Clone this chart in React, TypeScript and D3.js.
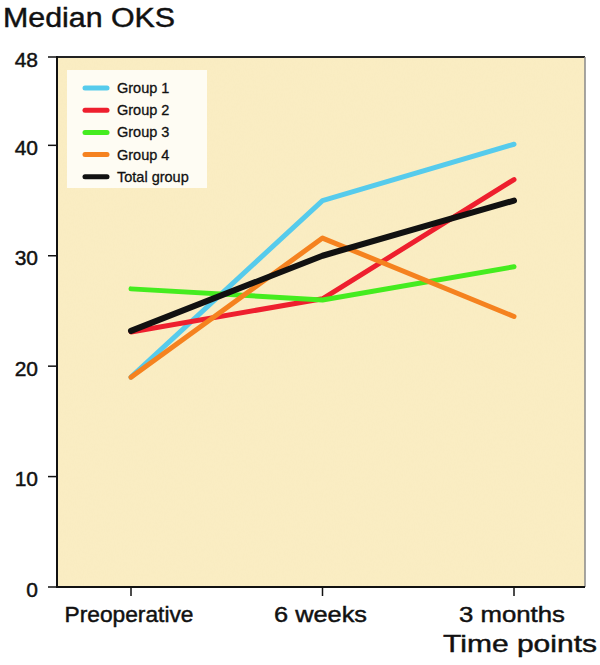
import React from "react";
import * as d3 from "d3";

const timePoints = ["Preoperative", "6 weeks", "3 months"];
const yTicks = [0, 10, 20, 30, 40, 48];
const seriesNames = ["Group 1", "Group 2", "Group 3", "Group 4", "Total group"];
const seriesColors = ["#56cbec", "#ee1f2e", "#45ec1f", "#f5821f", "#111111"];
const group1 = [19.0, 35.0, 40.1];
const group2 = [23.1, 26.1, 36.9];
const group3 = [27.0, 26.0, 29.0];
const group4 = [19.0, 31.6, 24.5];
const totalGroup = [23.2, 30.0, 35.0];
const seriesValues = [group1, group2, group3, group4, totalGroup];

const W = 600, H = 665;
const L = 57, R = 585, T = 57, B = 587;
const FONT = "'Liberation Sans', Arial, Helvetica, sans-serif";
// rendered widths of the x tick labels (style)
const tickLabelWidth: Record<string, number> = { "Preoperative": 129, "6 weeks": 93, "3 months": 106 };
const txt = { fontFamily: FONT, fill: "#111", stroke: "#111", strokeWidth: 0.45 };

export default function App() {
  const y = d3.scaleLinear().domain([0, 48]).range([B, T]);
  const x = d3.scalePoint().domain(timePoints).range([131, 514]);
  const line = d3.line<number>().x((_, i) => x(timePoints[i])!).y((d) => y(d));

  return (
    <svg width={W} height={H} style={{ position: "absolute", left: 0, top: 0 }}>
      <defs>
        <filter id="tex" x="0" y="0" width="100%" height="100%">
          <feTurbulence type="fractalNoise" baseFrequency="0.9 0.35" numOctaves={2} seed={3} result="n" />
          <feColorMatrix type="matrix" values="0 0 0 0 0.85  0 0 0 0 0.72  0 0 0 0 0.4  0 0 0 0.9 -0.3" />
        </filter>
      </defs>
      <rect width={W} height={H} fill="#ffffff" />
      <rect x={L} y={T} width={R - L} height={B - T} fill="#faedc3" />
      <rect x={L} y={T} width={R - L} height={B - T} filter="url(#tex)" opacity={0.15} />
      <line x1={L} x2={R} y1={T} y2={T} stroke="#222" strokeWidth={2} />
      <line x1={R} x2={R} y1={T} y2={B} stroke="#888" strokeWidth={1.5} />
      {/* legend */}
      <rect x={67} y={70} width={140} height={118} fill="#fefcf3" />
      {seriesNames.map((n, i) => (
        <g key={n}>
          <line x1={85} x2={107} y1={88 + i * 22.2} y2={88 + i * 22.2} stroke={seriesColors[i]} strokeWidth={5} strokeLinecap="round" />
          <text x={117} y={88 + i * 22.2 + 5} fontSize={14.5} {...txt} strokeWidth={0.3}>{n}</text>
        </g>
      ))}
      {/* series */}
      {seriesValues.map((vals, i) => (
        <path key={i} d={line(vals)!} fill="none" stroke={seriesColors[i]} strokeWidth={i === 4 ? 6 : 5} strokeLinejoin="round" strokeLinecap="round" />
      ))}
      {/* axes */}
      <line x1={L} x2={L} y1={T - 1} y2={B + 1} stroke="#111" strokeWidth={2} />
      <line x1={L - 1} x2={R} y1={B} y2={B} stroke="#111" strokeWidth={2} />
      {yTicks.map((t) => (
        <g key={t}>
          <line x1={L - 9} x2={L} y1={y(t)} y2={y(t)} stroke="#111" strokeWidth={1.5} />
          <text x={38} y={y(t) + 9.5} textAnchor="end" fontSize={21} {...txt}>{t}</text>
        </g>
      ))}
      {timePoints.map((t) => (
        <g key={t}>
          <line x1={x(t)} x2={x(t)} y1={B} y2={B + 9} stroke="#111" strokeWidth={1.5} />
          <text x={x(t)! - tickLabelWidth[t] / 2 - 2} y={622} fontSize={22} {...txt}
            textLength={tickLabelWidth[t]} lengthAdjust="spacingAndGlyphs">{t}</text>
        </g>
      ))}
      <text x={3} y={27} fontSize={27} {...txt} textLength={172} lengthAdjust="spacingAndGlyphs">Median OKS</text>
      <text x={443} y={652} fontSize={24} {...txt} textLength={154} lengthAdjust="spacingAndGlyphs">Time points</text>
    </svg>
  );
}
